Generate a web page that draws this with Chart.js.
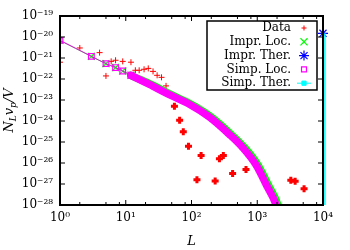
<!DOCTYPE html>
<html>
<head>
<meta charset="utf-8">
<script src="https://cdn.jsdelivr.net/npm/chart.js@4.4.1/dist/chart.umd.min.js"></script>
<style>
body { margin: 0; background: #fff; }
#c { display: block; }
</style>
</head>
<body>
<canvas id="c" width="350" height="250"></canvas>
<script>
// Tick values and labels
var xTicks = [1, 10, 100, 1000, 10000];
var xLabels = ['10\u2070', '10\u00b9', '10\u00b2', '10\u00b3', '10\u2074'];
var xMinor = [2, 5, 8];
var yTicks = [1e-19, 1e-20, 1e-21, 1e-22, 1e-23, 1e-24, 1e-25, 1e-26, 1e-27, 1e-28];
var yLabels = ['10\u207b\u00b9\u2079', '10\u207b\u00b2\u2070', '10\u207b\u00b2\u00b9', '10\u207b\u00b2\u00b2',
               '10\u207b\u00b2\u00b3', '10\u207b\u00b2\u2074', '10\u207b\u00b2\u2075', '10\u207b\u00b2\u2076',
               '10\u207b\u00b2\u2077', '10\u207b\u00b2\u2078'];

var seriesNames = ['Data', 'Impr. Loc.', 'Impr. Ther.', 'Simp. Loc.', 'Simp. Ther.'];

// Data (measured)
var dataL = [1, 2, 4, 5, 6, 7, 9, 12, 14, 16, 19, 22, 26, 30, 35, 41,
             55, 66, 75, 90, 121, 140, 229, 266, 305, 422, 674, 3240, 3770, 5150];
var dataV = [6.3e-22, 3.0e-21, 1.8e-21, 1.4e-22, 6.9e-22, 7.8e-22, 6.9e-22, 6.3e-22, 2.6e-22, 2.6e-22,
             2.9e-22, 3.2e-22, 2.3e-22, 1.5e-22, 1.2e-22, 4.7e-23,
             5e-24, 1.1e-24, 3.1e-25, 6.3e-26, 1.6e-27, 2.3e-26, 1.4e-27, 1.6e-26, 2.3e-26,
             3.2e-27, 4.9e-27, 1.5e-27, 1.35e-27, 6e-28];

// Improved, local
var imprLocL = [1, 3, 5, 7, 9, 12, 24.5, 49, 99, 200, 403, 657, 1030, 1480, 2070, 2350];
var imprLocV = [6.9e-21, 1.2e-21, 5.4e-22, 3.5e-22, 2.4e-22, 1.5e-22, 5.5e-23, 1.8e-23,
                6.3e-24, 1.55e-24, 2.3e-25, 5e-26, 7.8e-27, 8.7e-28, 9.8e-29, 2e-29];

// Improved, thermal
var imprTherL = [10000];
var imprTherV = [1.5e-20];

// Simple, local
var simpLocL = [1, 3, 5, 7, 9, 12, 23, 46, 93, 187, 377, 614, 966, 1384, 1940, 2200];
var simpLocV = [6.9e-21, 1.2e-21, 5.4e-22, 3.5e-22, 2.4e-22, 1.5e-22, 5.5e-23, 1.8e-23,
                6.3e-24, 1.55e-24, 2.3e-25, 5e-26, 7.8e-27, 8.7e-28, 9.8e-29, 2e-29];

// Simple, thermal
var simpTherL = [10700, 10700];
var simpTherV = [1.5e-20, 1e-28];

var FONT = '"DejaVu Serif", serif';
var NB_MARKED = 6; // points drawn with markers on the local curves

function pts(xs, ys) {
  return xs.map(function (x, i) { return { x: x, y: ys[i] }; });
}

// Frame, inward ticks, axis titles
var framePlugin = {
  id: 'frame',
  afterDraw: function (chart) {
    var ctx = chart.ctx, a = chart.chartArea;
    var xs = chart.scales.x, ys = chart.scales.y;
    ctx.save();
    ctx.strokeStyle = '#000';
    ctx.lineWidth = 1;
    ctx.beginPath();
    xTicks.forEach(function (v) {
      var px = xs.getPixelForValue(v);
      ctx.moveTo(px, a.bottom); ctx.lineTo(px, a.bottom - 5);
      ctx.moveTo(px, a.top); ctx.lineTo(px, a.top + 5);
      if (v < 10000) {
        xMinor.forEach(function (m) {
          var q = xs.getPixelForValue(v * m);
          ctx.moveTo(q, a.bottom); ctx.lineTo(q, a.bottom - 3);
          ctx.moveTo(q, a.top); ctx.lineTo(q, a.top + 3);
        });
      }
    });
    yTicks.forEach(function (v) {
      var py = ys.getPixelForValue(v);
      ctx.moveTo(a.left, py); ctx.lineTo(a.left + 5, py);
      ctx.moveTo(a.right, py); ctx.lineTo(a.right - 5, py);
    });
    ctx.stroke();
    ctx.lineWidth = 2;
    ctx.strokeRect(a.left, a.top, a.right - a.left, a.bottom - a.top);

    // x title
    ctx.fillStyle = '#000';
    ctx.font = 'italic 13px ' + FONT;
    ctx.textAlign = 'center';
    ctx.textBaseline = 'middle';
    ctx.fillText('L', (a.left + a.right) / 2, 242);

    // y title N_L v_p / V, rotated
    ctx.translate(13, (a.top + a.bottom) / 2);
    ctx.rotate(-Math.PI / 2);
    ctx.textAlign = 'left';
    ctx.textBaseline = 'alphabetic';
    var parts = [['N', 13, 0], ['L', 9, 3], ['v', 13, 0], ['p', 9, 3], ['/V', 13, 0]];
    var w = 0;
    parts.forEach(function (p) { ctx.font = 'italic ' + p[1] + 'px ' + FONT; w += ctx.measureText(p[0]).width; });
    var cx = -w / 2;
    parts.forEach(function (p) {
      ctx.font = 'italic ' + p[1] + 'px ' + FONT;
      ctx.fillText(p[0], cx, p[2]);
      cx += ctx.measureText(p[0]).width;
    });
    ctx.restore();
  }
};

// gnuplot style key: text on the left, sample on the right
var keyPlugin = {
  id: 'key',
  afterDraw: function (chart) {
    var ctx = chart.ctx;
    var box = { l: 207, t: 21, r: 317, b: 90 };
    ctx.save();
    ctx.fillStyle = '#fff';
    ctx.fillRect(box.l, box.t, box.r - box.l, box.b - box.t);
    ctx.strokeStyle = '#000';
    ctx.lineWidth = 1.5;
    ctx.strokeRect(box.l, box.t, box.r - box.l, box.b - box.t);
    ctx.font = '12px ' + FONT;
    ctx.textAlign = 'right';
    ctx.textBaseline = 'middle';
    seriesNames.forEach(function (name, i) {
      var y = 28 + i * 13.8;
      ctx.fillStyle = '#000';
      ctx.fillText(name, 291, y);
      var ds = chart.data.datasets[i];
      ctx.strokeStyle = ds.pointBorderColor || ds.borderColor;
      ctx.fillStyle = ds.keyFill;
      ctx.lineWidth = ds.keyWidth;
      if (name === 'Simp. Ther.') {
        ctx.beginPath(); ctx.moveTo(297, y); ctx.lineTo(311, y); ctx.stroke();
      }
      Chart.helpers.drawPoint(ctx, { pointStyle: ds.pointStyle, rotation: 0, radius: ds.keyRadius, borderWidth: ds.keyWidth }, 304, y);
    });
    ctx.restore();
  }
};

var ctx = document.getElementById('c');
var chart = new Chart(ctx, {
  type: 'scatter',
  data: {
    datasets: [
      {
        label: seriesNames[0],
        data: pts(dataL, dataV),
        order: 5,
        pointStyle: 'cross',
        borderColor: '#ff0000',
        backgroundColor: '#ff0000',
        pointRadius: function (c) { return dataL[c.dataIndex] > 50 ? 3.5 : 3; },
        pointBorderWidth: function (c) { return dataL[c.dataIndex] > 50 ? 3 : 1; },
        keyRadius: 2.5, keyWidth: 1, keyFill: '#ff0000'
      },
      {
        label: seriesNames[1],
        data: pts(imprLocL, imprLocV),
        order: 4,
        showLine: true,
        cubicInterpolationMode: 'monotone',
        borderColor: '#00ff00',
        borderWidth: 1,
        borderJoinStyle: 'round',
        borderCapStyle: 'round',
        segment: { borderWidth: function (c) { return c.p0DataIndex >= NB_MARKED - 1 ? 7.5 : 1; } },
        pointStyle: 'crossRot',
        pointBorderColor: '#00ff00',
        pointRadius: function (c) { return c.dataIndex < NB_MARKED ? 5 : 0; },
        pointBorderWidth: 1.2,
        keyRadius: 5, keyWidth: 1.2, keyFill: 'transparent'
      },
      {
        label: seriesNames[2],
        data: pts(imprTherL, imprTherV),
        order: 3,
        clip: false,
        pointStyle: 'star',
        borderColor: '#0000ff',
        pointRadius: 5,
        pointBorderWidth: 1.2,
        keyRadius: 5, keyWidth: 1.2, keyFill: 'transparent'
      },
      {
        label: seriesNames[3],
        data: pts(simpLocL, simpLocV),
        order: 2,
        showLine: true,
        cubicInterpolationMode: 'monotone',
        borderColor: '#ff00ff',
        borderWidth: 1,
        borderJoinStyle: 'round',
        borderCapStyle: 'round',
        segment: { borderWidth: function (c) { return c.p0DataIndex >= NB_MARKED - 1 ? 7.5 : 1; } },
        pointStyle: 'rect',
        pointBorderColor: '#ff00ff',
        pointBackgroundColor: 'transparent',
        pointRadius: function (c) { return c.dataIndex < NB_MARKED ? 4 : 0; },
        pointBorderWidth: 1.2,
        keyRadius: 3.5, keyWidth: 1.2, keyFill: 'transparent'
      },
      {
        label: seriesNames[4],
        data: pts(simpTherL, simpTherV),
        order: 1,
        clip: false,
        showLine: true,
        borderColor: '#00ffff',
        backgroundColor: '#00ffff',
        borderWidth: 1.5,
        pointStyle: 'rect',
        pointRadius: 0,
        keyRadius: 3, keyWidth: 1, keyFill: '#00ffff'
      }
    ]
  },
  options: {
    responsive: false,
    animation: false,
    devicePixelRatio: 1,
    layout: { padding: { top: 16, right: 27, left: 0, bottom: 0 } },
    plugins: { legend: { display: false }, tooltip: { enabled: false } },
    scales: {
      x: {
        type: 'logarithmic',
        min: 1, max: 10000,
        grid: { display: false, drawTicks: false },
        border: { display: false },
        afterBuildTicks: function (ax) { ax.ticks = xTicks.map(function (v) { return { value: v }; }); },
        afterFit: function (ax) { ax.height = 45; },
        ticks: {
          autoSkip: false, maxRotation: 0, padding: 6,
          color: '#000', font: { family: FONT, size: 12 },
          callback: function (v) { return xLabels[xTicks.indexOf(v)]; }
        }
      },
      y: {
        type: 'logarithmic',
        min: 1e-28, max: 1e-19,
        grid: { display: false, drawTicks: false },
        border: { display: false },
        afterBuildTicks: function (ax) { ax.ticks = yTicks.map(function (v) { return { value: v }; }); },
        afterFit: function (ax) { ax.width = 60; },
        ticks: {
          autoSkip: false, padding: 7,
          color: '#000', font: { family: FONT, size: 12 },
          callback: function (v) { return yLabels[yTicks.indexOf(v)]; }
        }
      }
    }
  },
  plugins: [framePlugin, keyPlugin]
});
</script>
</body>
</html>
